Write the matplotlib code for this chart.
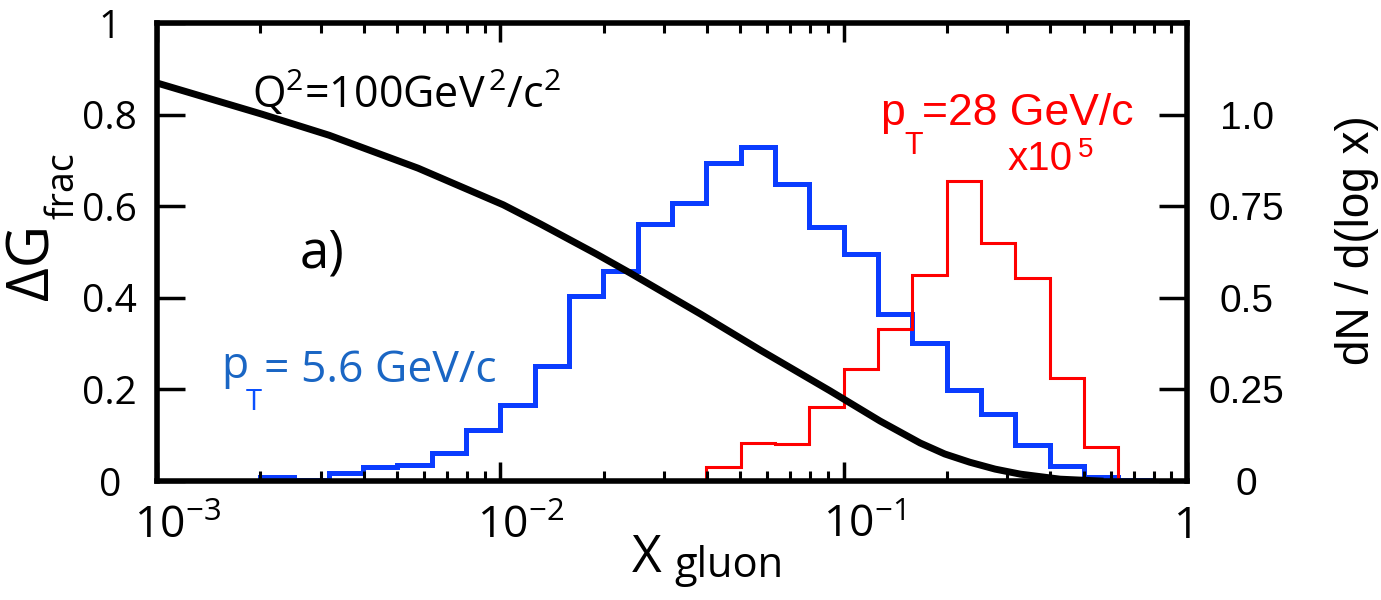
import numpy as np
import matplotlib
matplotlib.use('Agg')
import matplotlib.pyplot as plt
from matplotlib.ticker import LogLocator, NullFormatter
import matplotlib.transforms as mtransforms

# ---------------- data ----------------
# Delta G_frac curve (left axis)
curve_x = [0.001, 0.00202, 0.00317, 0.00576, 0.0102, 0.0131, 0.0190, 0.0239,
           0.0382, 0.0571, 0.0912, 0.1276, 0.167, 0.197, 0.233, 0.276, 0.327,
           0.427, 0.558]
curve_y = [0.869, 0.801, 0.755, 0.683, 0.603, 0.561, 0.496, 0.454,
           0.365, 0.286, 0.197, 0.131, 0.083, 0.059, 0.041, 0.026, 0.015,
           0.004, 0.0]

# pT = 5.6 GeV/c histogram (right axis), log10 bin edges
blue_edges_log10 = [-2.7, -2.6, -2.5, -2.4, -2.3, -2.2, -2.1, -2.0, -1.9, -1.8,
                    -1.7, -1.6, -1.5, -1.4, -1.3, -1.2, -1.1, -1.0, -0.9, -0.8,
                    -0.7, -0.6, -0.5, -0.4, -0.3, -0.2, -0.1]
blue_vals = [0.012, 0.004, 0.021, 0.037, 0.043, 0.077, 0.139, 0.208, 0.314, 0.506,
             0.574, 0.702, 0.759, 0.868, 0.912, 0.811, 0.693, 0.619, 0.456, 0.376,
             0.247, 0.183, 0.098, 0.041, 0.012, 0.003]

# pT = 28 GeV/c histogram (x10^5, right axis)
red_edges_log10 = [-1.4, -1.3, -1.2, -1.1, -1.0, -0.9, -0.8, -0.7, -0.6, -0.5,
                   -0.4, -0.3, -0.2]
red_vals = [0.039, 0.103, 0.101, 0.202, 0.305, 0.414, 0.563, 0.820, 0.649, 0.553,
            0.281, 0.092]

xtick_vals = [1e-3, 1e-2, 1e-1, 1]
xtick_labels = [r'$10^{-3}$', r'$10^{-2}$', r'$10^{-1}$', '1']
left_ticks = [0, 0.2, 0.4, 0.6, 0.8, 1]
left_labels = ['0', '0.2', '0.4', '0.6', '0.8', '1']
right_ticks = [0, 0.25, 0.5, 0.75, 1.0]
right_labels = ['0', '0.25', '0.5', '0.75', '1.0']

# ---------------- style ----------------
plt.rcParams['font.family'] = ['Open Sans', 'DejaVu Sans']
plt.rcParams['mathtext.fontset'] = 'custom'
plt.rcParams['mathtext.rm'] = 'Open Sans'
plt.rcParams['mathtext.it'] = 'Open Sans:italic'
plt.rcParams['mathtext.bf'] = 'Open Sans:bold'
plt.rcParams['mathtext.default'] = 'regular'

W, H = 1381, 600
fig = plt.figure(figsize=(W / 100, H / 100), dpi=100)
L, R, T, B = 157, 1187, 23, 481
ax = fig.add_axes([L / W, 1 - B / H, (R - L) / W, (B - T) / H])
ax2 = ax.twinx()
ax.set_zorder(ax2.get_zorder() + 1)
ax.patch.set_visible(False)

ax.set_xscale('log')
ax.set_xlim(1e-3, 1)
ax.set_ylim(0, 1)
ax2.set_ylim(0, 1.25)

blue_c = '#0a3cff'
red_c = '#ff0000'
ax2.stairs(blue_vals, 10 ** np.array(blue_edges_log10), color=blue_c, lw=3.6, baseline=0)
ax2.stairs(red_vals, 10 ** np.array(red_edges_log10), color=red_c, lw=2.2, baseline=0)
ax.plot(curve_x, curve_y, color='black', lw=5, solid_joinstyle='round')

# spines
for s in ax.spines.values():
    s.set_linewidth(4)
for s in ax2.spines.values():
    s.set_visible(False)

# x ticks
ax.set_xticks(xtick_vals, xtick_labels)
ax.xaxis.set_minor_locator(LogLocator(base=10, subs=np.arange(2, 10)))
ax.xaxis.set_minor_formatter(NullFormatter())
ax.tick_params(axis='x', which='both', direction='in', top=True, bottom=True)
ax.tick_params(axis='x', which='major', length=14, width=2.5, pad=17, labelsize=32)
ax.tick_params(axis='x', which='minor', length=7, width=2.2)
shift = mtransforms.ScaledTranslation(0.2, 0, fig.dpi_scale_trans)
for lab in ax.get_xticklabels()[:3]:
    lab.set_transform(lab.get_transform() + shift)

# left y ticks
ax.set_yticks(left_ticks, left_labels)
ax.tick_params(axis='y', direction='in', left=True, right=False, length=20, width=2.5,
               pad=34, labelsize=28)
plt.setp(ax.get_yticklabels(), ha='center')

# right y ticks
ax2.set_yticks(right_ticks, right_labels)
ax2.tick_params(axis='y', direction='in', right=True, left=False, length=20, width=2.5,
                pad=43, labelsize=28, labelfontfamily='Liberation Sans')
plt.setp(ax2.get_yticklabels(), ha='center')


def ptxt(x, y, s, **kw):
    return fig.text(x / W, 1 - y / H, s, **kw)


# axis labels
ptxt(33, 262, 'ΔG', rotation=90, ha='center', va='center', fontsize=42)
ptxt(64, 186, 'frac', rotation=90, ha='center', va='center', fontsize=27)
ptxt(632, 572, 'X', ha='left', va='baseline', fontsize=37)
ptxt(674, 577, 'gluon', ha='left', va='baseline', fontsize=30)
ptxt(1357, 240, 'dN / d(log x)', rotation=90, ha='center', va='center',
     fontsize=33, family='Liberation Sans')

# annotations
ptxt(252, 108, r'Q$^{2}$=100GeV$^{\,2}$/c$^{2}$', ha='left', va='baseline', fontsize=31)
ptxt(300, 268, 'a)', ha='left', va='baseline', fontsize=38)

ptxt(221, 378, 'p', ha='left', va='baseline', fontsize=32, color='#1a66c4')
ptxt(246, 410, 'T', ha='left', va='baseline', fontsize=21, color='#0a50ff')
ptxt(264, 382, '= 5.6 GeV/c', ha='left', va='baseline', fontsize=32, color='#1a66c4')

ptxt(880, 125, 'p', ha='left', va='baseline', fontsize=32, color=red_c, family='Liberation Sans')
ptxt(904, 154, 'T', ha='left', va='baseline', fontsize=22, color=red_c, family='Liberation Sans')
ptxt(922, 125, '=28 GeV/c', ha='left', va='baseline', fontsize=32, color=red_c, family='Liberation Sans')
ptxt(1008, 170, 'x10', ha='left', va='baseline', fontsize=29, color=red_c, family='Liberation Sans')
ptxt(1078, 157, '5', ha='left', va='baseline', fontsize=20, color=red_c, family='Liberation Sans')

fig.savefig('out.png', dpi=100, facecolor='white')
